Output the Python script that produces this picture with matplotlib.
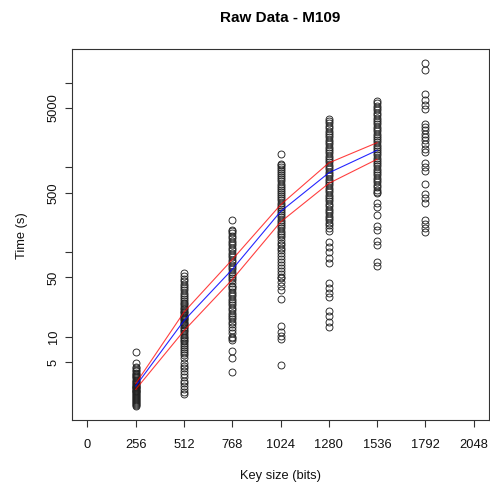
"""
Raw Data - M109: time (log scale) against key size, with fitted line and bounds.
Output: out.png
"""

import numpy as np
import matplotlib
matplotlib.use("Agg")
import matplotlib.pyplot as plt
from matplotlib.ticker import FixedLocator, NullLocator

plt.rcParams["font.family"] = ["Liberation Sans", "DejaVu Sans"]

# measured run times (s) per key size
key_sizes = [256, 512, 768, 1024, 1280, 1536, 1792]

t_256 = [6.5, 4.9, 4.4, 4.2, 4.0, 3.9, 3.7, 3.6, 3.5, 3.4, 3.3, 3.2, 3.1, 3.0,
         2.9, 2.8, 2.75, 2.7, 2.6, 2.55, 2.5, 2.45, 2.4, 2.35, 2.3, 2.25, 2.2,
         2.15, 2.1, 2.05, 2.0, 1.95, 1.9, 1.85, 1.8, 1.75, 1.7, 1.65, 1.6,
         1.55, 1.5]
t_512 = [57, 52, 48, 45, 42, 40, 37, 35, 33, 31, 29, 27.5, 26, 25, 24, 23, 22,
         21, 20, 19.5, 19, 18, 17.5, 17, 16.5, 16, 15.5, 15, 14.5, 14, 13.5,
         13, 12.5, 12, 11.5, 11, 10.5, 10, 9.6, 9.2, 8.8, 8.4, 8, 7.6, 7.2,
         6.8, 6.4, 6, 5.6, 4.8, 4.5, 4.2, 3.9, 3.6, 3.3, 3.0, 2.8, 2.6, 2.4,
         2.2, 2.1]
t_768 = [238, 182, 175, 165, 155, 145, 135, 128, 120, 112, 105, 98, 92, 86, 80,
         75, 70, 66, 62, 58, 55, 52, 49, 46, 43, 40, 38, 36, 34, 32, 30, 28,
         26.5, 25, 23.5, 22, 20.5, 19, 18, 17, 16, 15, 14, 13, 12, 11, 10, 9.5,
         9, 6.8, 5.6, 3.8]
t_1024 = [1449, 1077, 1055, 1000, 950, 900, 850, 800, 760, 720, 680, 640, 600,
          570, 540, 510, 480, 455, 430, 405, 380, 360, 340, 320, 300, 285, 270,
          255, 240, 228, 215, 203, 190, 178, 168, 158, 148, 138, 128, 120, 112,
          104, 96, 89, 82, 76, 70, 65, 60, 55, 51, 49.6, 43.6, 39.5, 35.5, 27.6,
          13.4, 11.3, 10.2, 9.4, 4.6]
t_1280 = [3724, 3500, 3300, 3100, 2900, 2700, 2550, 2400, 2250, 2100, 1980,
          1860, 1750, 1650, 1550, 1460, 1370, 1290, 1210, 1140, 1070, 1000, 940,
          880, 830, 780, 730, 690, 650, 610, 570, 540, 505, 475, 445, 420, 395,
          370, 345, 325, 305, 285, 268, 250, 235, 220, 205, 190, 175, 130, 113,
          99, 85, 73, 43.4, 37.9, 33, 28.9, 20.1, 17.6, 14.7, 12.9]
t_1536 = [6100, 5700, 5300, 5000, 4700, 4400, 4100, 3850, 3600, 3400, 3200,
          3000, 2800, 2650, 2500, 2350, 2200, 2080, 1960, 1850, 1740, 1640, 1550,
          1460, 1380, 1300, 1220, 1150, 1080, 1020, 960, 900, 850, 800, 750, 700,
          660, 620, 580, 545, 510, 490, 378, 343, 274, 200, 182, 133, 122, 75.5,
          69]
t_1792 = [17140, 13960, 7310, 6220, 5480, 4880, 3250, 2970, 2715, 2485, 2265,
          2074, 1862, 1657, 1512, 1123, 1008, 905, 627, 482, 429, 375, 239, 215,
          191, 170]

times = [t_256, t_512, t_768, t_1024, t_1280, t_1536, t_1792]

# fitted curve and bounds
fit_x = [256, 512, 768, 1024, 1280, 1536]
fit_mid = [2.6, 15.4, 62, 299, 857, 1582]
fit_hi = [2.78, 19.4, 81, 359, 1123, 1948]
fit_lo = [2.37, 11.7, 47, 225, 644, 1241]

x_ticks = [0, 256, 512, 768, 1024, 1280, 1536, 1792, 2048]
y_ticks = [5, 10, 50, 100, 500, 1000, 5000, 10000]
y_tick_labels = ["5", "10", "50", "", "500", "", "5000", ""]


def main():
    W, H = 490, 488
    fig = plt.figure(figsize=(W / 100, H / 100), dpi=100)
    ax = fig.add_axes([72 / W, (H - 420) / H, 417 / W, 371 / H])

    for k, ts in zip(key_sizes, times):
        ax.plot([k] * len(ts), ts, linestyle="none", marker="o", markersize=5,
                markerfacecolor="none", markeredgecolor="#222222",
                markeredgewidth=0.65, zorder=2)

    ax.plot(fit_x, fit_mid, color="blue", linewidth=0.8, alpha=0.85, zorder=3)
    ax.plot(fit_x, fit_hi, color="red", linewidth=0.8, alpha=0.75, zorder=3)
    ax.plot(fit_x, fit_lo, color="red", linewidth=0.8, alpha=0.75, zorder=3)

    ax.set_yscale("log")
    all_t = np.concatenate([np.asarray(t, dtype=float) for t in times])
    lo, hi = np.log10(all_t.min()), np.log10(all_t.max())
    pad = 0.04 * (hi - lo)
    ax.set_ylim(10 ** (lo - pad), 10 ** (hi + pad))
    ax.set_xlim(0 - 0.04 * 2048, 2048 + 0.04 * 2048)

    ax.xaxis.set_major_locator(FixedLocator(x_ticks))
    ax.set_xticklabels([str(v) for v in x_ticks])
    ax.yaxis.set_major_locator(FixedLocator(y_ticks))
    ax.yaxis.set_minor_locator(NullLocator())
    ax.set_yticklabels(y_tick_labels, rotation=90, va="center")

    ax.tick_params(axis="both", direction="out", length=5, width=0.8,
                   labelsize=9.3, color="#333333", labelcolor="#111111")
    ax.tick_params(axis="x", pad=9)
    ax.tick_params(axis="y", pad=4)
    for s in ax.spines.values():
        s.set_linewidth(0.8)
        s.set_color("#333333")

    fig.text(280.5 / W, 1 - 18 / H, "Raw Data - M109", ha="center",
             va="center", fontsize=11, fontweight="bold")
    fig.text(280.5 / W, 1 - 476 / H, "Key size (bits)", ha="center",
             va="center", fontsize=9.3, color="#111111")
    fig.text(22 / W, 1 - 236 / H, "Time (s)", ha="center", va="center",
             rotation=90, fontsize=9.3, color="#111111")

    fig.savefig("out.png", dpi=100)
    plt.close(fig)


if __name__ == "__main__":
    main()
